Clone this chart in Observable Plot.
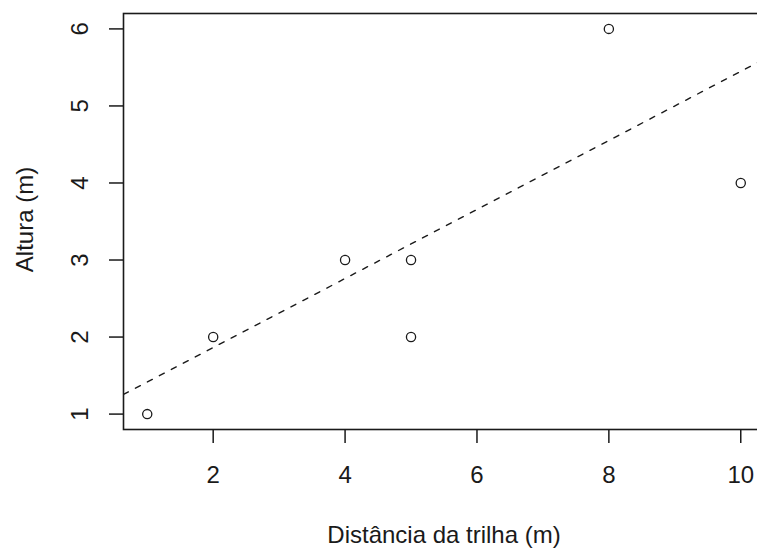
<!DOCTYPE html>
<html>
<head>
<meta charset="utf-8">
<script src="https://cdn.jsdelivr.net/npm/d3@7"></script>
<script src="https://cdn.jsdelivr.net/npm/@observablehq/plot@0.6"></script>
<style>
  html, body { margin: 0; padding: 0; background: #fff; overflow: hidden; }
  #chart svg { display: block; overflow: hidden; }
</style>
</head>
<body>
<div id="chart"></div>
<script>
// Tree height against distance from the trail
const distancia = [1, 2, 4, 5, 5, 8, 10];
const altura    = [1, 2, 3, 3, 2, 6, 4];

// Fitted trend line (dashed)
const fitIntercept = 0.968;
const fitSlope = 0.448;

// Axis ticks and titles
const xTicks = [2, 4, 6, 8, 10];
const yTicks = [1, 2, 3, 4, 5, 6];
const xTitle = "Distância da trilha (m)";
const yTitle = "Altura (m)";

// Axis extents padded 4% beyond the data range on each side
const xDomain = [1 - 0.04 * 9, 10 + 0.04 * 9];
const yDomain = [1 - 0.04 * 5, 6 + 0.04 * 5];

const points = distancia.map((d, i) => ({x: d, y: altura[i]}));
const fitLine = xDomain.map(x => ({x, y: fitIntercept + fitSlope * x}));

const font = "Liberation Sans, Arial, sans-serif";
const ink = "#1a1a1a";

const chart = Plot.plot({
  width: 757,
  height: 548,
  marginLeft: 123,
  marginTop: 13,
  marginBottom: 119,
  marginRight: -7,
  style: {fontFamily: font, fontSize: "24px", color: ink, background: "#fff"},
  x: {domain: xDomain, axis: null},
  y: {domain: yDomain, axis: null},
  marks: [
    Plot.frame({stroke: ink, strokeWidth: 1.6}),
    // x axis: ticks and labels
    Plot.axisX({
      ticks: xTicks, tickSize: 14, tickPadding: 22, tickFormat: d => String(d),
      label: null, stroke: ink, strokeWidth: 1.5, fill: ink, fontSize: 24
    }),
    // y axis: ticks only; labels are drawn rotated below
    Plot.axisY({
      ticks: yTicks, tickSize: 14, tickFormat: () => "",
      label: null, stroke: ink, strokeWidth: 1.5
    }),
    Plot.text(yTicks, {
      y: d => d, text: d => String(d), frameAnchor: "left",
      dx: -43, rotate: -90, textAnchor: "middle", lineAnchor: "middle",
      fontSize: 24, fill: ink
    }),
    // axis titles
    Plot.text([xTitle], {
      text: d => d, frameAnchor: "bottom", dy: 106,
      textAnchor: "middle", lineAnchor: "middle", fontSize: 24, fill: ink
    }),
    Plot.text([yTitle], {
      text: d => d, frameAnchor: "left", dx: -98, dy: -2, rotate: -90,
      textAnchor: "middle", lineAnchor: "middle", fontSize: 24, fill: ink
    }),
    // dashed trend line
    Plot.line(fitLine, {
      x: "x", y: "y", stroke: ink, strokeWidth: 1.4,
      strokeDasharray: "5.5,8", clip: true
    }),
    // observations as open circles
    Plot.dot(points, {
      x: "x", y: "y", r: 4.6, stroke: ink, strokeWidth: 1.3, fill: "none"
    })
  ]
});

document.getElementById("chart").appendChild(chart);
</script>
</body>
</html>
